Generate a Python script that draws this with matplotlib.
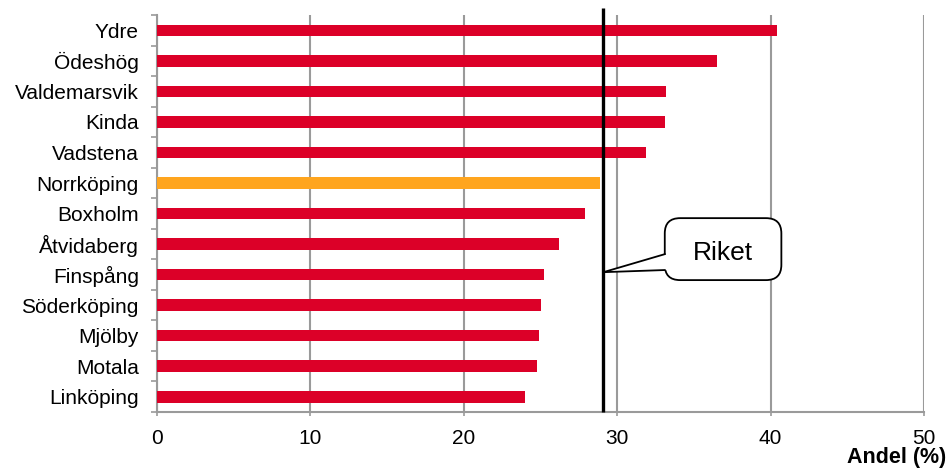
import matplotlib
matplotlib.use("Agg")
import matplotlib.pyplot as plt
from matplotlib.patches import Polygon, FancyBboxPatch

plt.rcParams["font.family"] = ["Liberation Sans", "DejaVu Sans"]

kommuner = ["Ydre", "Ödeshög", "Valdemarsvik", "Kinda", "Vadstena", "Norrköping",
            "Boxholm", "Åtvidaberg", "Finspång", "Söderköping", "Mjölby",
            "Motala", "Linköping"]
andel = [40.4, 36.5, 33.2, 33.1, 31.9, 28.9, 27.9, 26.2, 25.2, 25.0, 24.9, 24.8, 24.0]
riket = 29.1
highlight = "Norrköping"

RED = "#DC0028"
ORANGE = "#FFA51E"
GRID = "#9a9a9a"

fig = plt.figure(figsize=(9.49, 4.73), dpi=100)
ax = fig.add_axes([0.1654, 0.129, 0.8083, 0.839])

ypos = list(range(len(kommuner)))[::-1]
colors = [ORANGE if k == highlight else RED for k in kommuner]
ax.barh(ypos, andel, height=0.38, color=colors, zorder=3)

ax.set_xlim(0, 50)
ax.set_ylim(-0.5, len(kommuner) - 0.5)
ax.set_xticks([0, 10, 20, 30, 40, 50])
ax.set_yticks(ypos)
ax.set_yticklabels(kommuner)
ax.set_yticks([y + 0.5 for y in range(-1, len(kommuner))], minor=True)
ax.grid(axis="x", color=GRID, lw=1.5, zorder=1)
ax.tick_params(axis="x", length=3, width=1.2, color=GRID, pad=9, labelsize=15)
ax.tick_params(axis="y", which="major", length=0, pad=13, labelsize=15)
ax.tick_params(axis="y", which="minor", length=4, width=1.2, color=GRID)
for s in ("top", "right"):
    ax.spines[s].set_visible(False)
for s in ("left", "bottom"):
    ax.spines[s].set_color(GRID)
    ax.spines[s].set_linewidth(1.5)

# Riket reference line, running slightly above the plot area
ax.plot([riket, riket], [-0.5, 12.72], color="black", lw=2.4, zorder=5,
        clip_on=False, solid_capstyle="butt")

# callout box with pointer to the line
bx0, bx1, by0, by1 = 33.1, 40.7, 3.82, 5.85
box = FancyBboxPatch((bx0, by0), bx1 - bx0, by1 - by0,
                     boxstyle="round,pad=0,rounding_size=1.0", mutation_aspect=0.5,
                     fc="white", ec="black", lw=1.3, zorder=6)
ax.add_patch(box)
tip, base_lo, base_hi = 4.08, 4.15, 4.67
ax.add_patch(Polygon([(riket, tip), (bx0 + 0.15, base_hi), (bx0 + 0.15, base_lo)],
                     closed=True, fc="white", ec="none", zorder=7))
ax.plot([riket, bx0], [tip, base_hi], color="black", lw=1.3, zorder=8)
ax.plot([riket, bx0], [tip, base_lo], color="black", lw=1.3, zorder=8)
ax.text((bx0 + bx1) / 2, 4.72, "Riket", ha="center", va="center", fontsize=19,
        zorder=9)

fig.text(0.997, 0.021, "Andel (%)", ha="right", va="baseline", fontsize=15.5,
         fontweight="bold")

fig.savefig("out.png", dpi=100)
